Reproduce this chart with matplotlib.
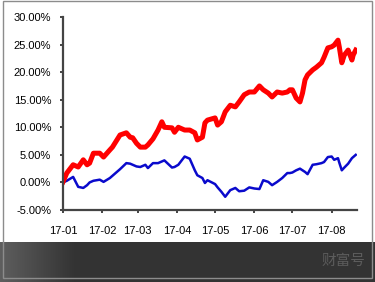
import matplotlib
matplotlib.use("Agg")
import matplotlib.pyplot as plt
import matplotlib.dates as mdates
from matplotlib.ticker import FuncFormatter
from matplotlib.patches import Rectangle
import numpy as np
import pandas as pd

plt.rcParams['font.family'] = ['Liberation Sans', 'DejaVu Sans']

dates = ["2017-01-01", "2017-01-04", "2017-01-09", "2017-01-13", "2017-01-17", "2017-01-20",
         "2017-01-22", "2017-01-25", "2017-01-30", "2017-02-02", "2017-02-07", "2017-02-09",
         "2017-02-15", "2017-02-20", "2017-02-23", "2017-02-25", "2017-02-28", "2017-03-03",
         "2017-03-07", "2017-03-09", "2017-03-13", "2017-03-17", "2017-03-20", "2017-03-22",
         "2017-03-28", "2017-03-30", "2017-04-02", "2017-04-07", "2017-04-11", "2017-04-15",
         "2017-04-17", "2017-04-21", "2017-04-23", "2017-04-25", "2017-05-01", "2017-05-03",
         "2017-05-06", "2017-05-09", "2017-05-13", "2017-05-17", "2017-05-20", "2017-05-24",
         "2017-05-28", "2017-06-01", "2017-06-05", "2017-06-08", "2017-06-12", "2017-06-15",
         "2017-06-19", "2017-06-23", "2017-06-27", "2017-06-29", "2017-07-01", "2017-07-04",
         "2017-07-07", "2017-07-09", "2017-07-11", "2017-07-13", "2017-07-17", "2017-07-20",
         "2017-07-24", "2017-07-26", "2017-07-29", "2017-08-01", "2017-08-03", "2017-08-06",
         "2017-08-07", "2017-08-09", "2017-08-11", "2017-08-14", "2017-08-17", "2017-08-18",
         "2017-08-20"]

red_series = [0.1, 1.7, 3.2, 2.8, 4.1, 3.2,
              3.5, 5.3, 5.3, 4.6, 5.9, 6.4,
              8.6, 9.0, 8.2, 8.1, 7.1, 6.4,
              6.4, 6.8, 7.9, 9.5, 11.0, 10.0,
              9.9, 9.1, 10.0, 9.5, 9.5, 9.0,
              7.7, 8.2, 10.8, 11.3, 11.7, 10.4,
              11.0, 12.8, 14.0, 13.7, 14.6, 15.9,
              16.4, 16.4, 17.5, 16.8, 16.2, 15.5,
              16.4, 16.2, 16.4, 16.8, 16.8, 15.3,
              14.6, 16.2, 18.6, 19.5, 20.4, 20.9,
              21.7, 22.7, 24.4, 24.6, 24.9, 25.8,
              24.6, 21.7, 23.1, 24.0, 22.2, 23.1,
              24.0]

blue_series = [0.0, 0.3, 1.0, -0.8, -1.0, -0.5,
               0.0, 0.3, 0.5, 0.1, 0.8, 1.2,
               2.4, 3.5, 3.4, 3.2, 2.9, 2.8,
               3.2, 2.6, 3.5, 3.5, 3.8, 4.0,
               2.7, 2.8, 3.2, 4.7, 4.3, 2.2,
               1.3, 0.8, -0.1, 0.4, -0.3, -0.9,
               -1.7, -2.6, -1.4, -1.0, -1.6, -1.5,
               -0.9, -1.1, -1.2, 0.4, 0.1, -0.5,
               0.1, 0.8, 1.7, 1.7, 1.8, 2.2,
               2.5, 2.2, 1.9, 1.5, 3.2, 3.3,
               3.5, 3.7, 4.6, 4.7, 4.1, 4.4,
               3.6, 2.2, 2.7, 3.4, 4.4, 4.6,
               5.0]

y_ticks = [-5, 0, 5, 10, 15, 20, 25, 30]
x_tick_dates = ["2017-01-01", "2017-02-01", "2017-03-01", "2017-04-01",
                "2017-05-01", "2017-06-01", "2017-07-01", "2017-08-01"]
watermark = "财富号"

W, H = 375, 282
fig = plt.figure(figsize=(W / 100, H / 100), dpi=100, facecolor='white')

# dark band at the bottom with a gradient on the left
band = fig.add_axes([0, 0, 1, 40 / H])
band.set_axis_off()
xs = np.arange(375)
vals = np.where(xs < 75, 0.37 - (0.37 - 0.20) * xs / 75, 0.20)
grad = np.dstack([vals, vals, vals])[None, 0, :, :] if False else np.dstack([vals, vals, vals])
band.imshow(grad, aspect='auto', extent=[0, 1, 0, 1])
band.set_xlim(0, 1)
band.set_ylim(0, 1)

# outer frame
fig.patches.append(Rectangle((2.5 / W, 4 / H), 369.5 / W, 277 / H, transform=fig.transFigure,
                             fill=False, edgecolor='#8c8c8c', linewidth=1.0, zorder=10))

fig.text(365 / W, 1 - 261 / H, watermark, ha='right', va='center', color='#5c5c5c',
         fontsize=10.5, family=['Noto Sans CJK SC', 'DejaVu Sans'])

ax = fig.add_axes([63 / W, 1 - 210 / H, (357 - 63) / W, (210 - 17) / H])
d = pd.to_datetime(dates)
ax.plot(d, blue_series, color='#0a0acc', linewidth=1.8, solid_joinstyle='round')
ax.plot(d, red_series, color='#ff0000', linewidth=3.6, solid_joinstyle='round')

ax.set_xlim(pd.Timestamp("2017-01-01"), pd.Timestamp("2017-08-21"))
ax.set_ylim(-5, 30)
ax.set_yticks(y_ticks)
ax.yaxis.set_major_formatter(FuncFormatter(lambda v, p: f"{v:.2f}%"))
ax.set_xticks(pd.to_datetime(x_tick_dates))
ax.xaxis.set_major_formatter(mdates.DateFormatter('%y-%m'))

for s in ['top', 'right']:
    ax.spines[s].set_visible(False)
for s in ['left', 'bottom']:
    ax.spines[s].set_color('#444444')
    ax.spines[s].set_linewidth(1.6)
ax.tick_params(axis='both', colors='#444444', width=1.4, length=2.5, labelcolor='black',
               labelsize=8)
ax.tick_params(axis='y', pad=6)
ax.tick_params(axis='x', pad=9)
ax.set_facecolor('none')

fig.savefig("out.png", dpi=100, facecolor='white')
